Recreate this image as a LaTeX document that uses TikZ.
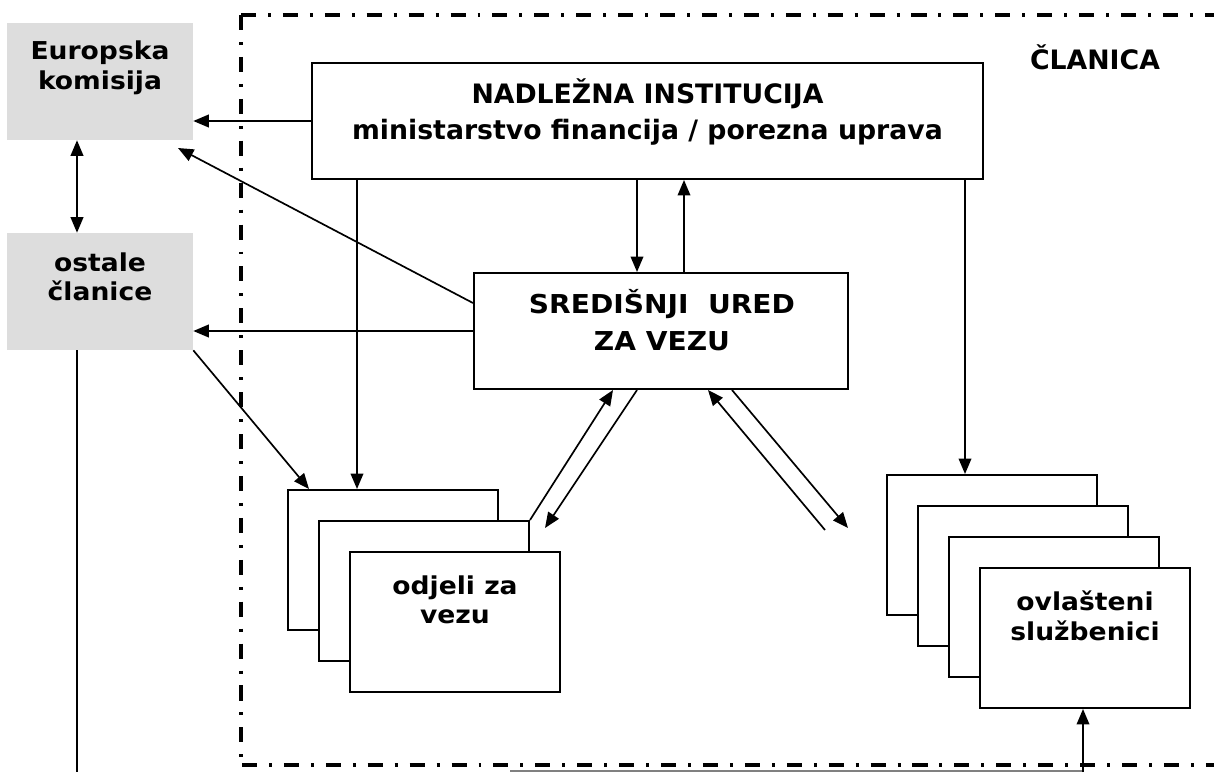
\documentclass[tikz,border=0pt]{standalone}
\usepackage{fontspec}
\setmainfont{DejaVu Sans}
\newfontfamily\widefont[FakeStretch=1.08]{DejaVu Sans}
\usetikzlibrary{arrows.meta}
\definecolor{boxgrey}{HTML}{DDDDDD}

\tikzset{
  greybox/.style={fill=boxgrey, minimum width=4.65cm, minimum height=2.925cm, inner sep=0pt},
  mainbox/.style={draw, line width=1.4pt, fill=white, minimum height=2.9cm, inner sep=0pt},
  stackbox/.style={draw, line width=1.4pt, fill=white, minimum width=5.25cm, minimum height=3.5cm, inner sep=0pt},
  wtext/.style={align=center, inner sep=0pt, font=\widefont\bfseries\fontsize{17.5}{21}\selectfont},
  ttext/.style={align=center, inner sep=0pt, font=\bfseries\fontsize{19}{25}\selectfont},
  arr/.style={line width=1.2pt, -{Triangle[length=11pt,width=9pt]}},
  dblarr/.style={line width=1.2pt, {Triangle[length=11pt,width=9pt]}-{Triangle[length=11pt,width=9pt]}},
  frameline/.style={line width=2.5pt, dash pattern=on 10.7pt off 8.5pt on 2.1pt off 8.5pt}
}

\begin{document}
\begin{tikzpicture}[x=0.025cm, y=0.025cm]
\useasboundingbox (0,0) rectangle (1214,-772);
% outer frame of the member state
\draw[frameline] (241,-15) -- (1214,-15);
\draw[frameline] (241,-15) -- (241,-765);
\draw[frameline] (242,-765) -- (1214,-765);
\node[ttext] (clanica) at (1095,-57) {ČLANICA};

% left side
\node[greybox] (ek) at (100,-81.5) {};
\node[wtext] (ek-txt) at (100,-68) {Europska\\komisija};
\node[greybox] (oc) at (100,-291.5) {};
\node[wtext] (oc-txt) at (100,-277) {ostale\\članice};

% institution and central office
\node[mainbox, minimum width=16.775cm] (ni) at (647.5,-121) {};
\node[ttext] (ni-txt) at (647.5,-112) {NADLEŽNA INSTITUCIJA\\ministarstvo financija / porezna uprava};
\node[mainbox, minimum width=9.35cm] (su) at (661,-331) {};
\node[wtext, font=\widefont\bfseries\fontsize{18.5}{26}\selectfont] (su-txt) at (662,-320) {SREDIŠNJI~~URED\\ZA VEZU};

% liaison departments
\node[stackbox] (odj1) at (393,-560) {};
\node[stackbox] (odj2) at (424,-591) {};
\node[stackbox] (odj3) at (455,-622) {};
\node[wtext] (odj-txt) at (455,-600) {odjeli za\\vezu};

% authorised officers
\node[stackbox] (ovl1) at (992,-545) {};
\node[stackbox] (ovl2) at (1023,-576) {};
\node[stackbox] (ovl3) at (1054,-607) {};
\node[stackbox] (ovl4) at (1085,-638) {};
\node[wtext] (ovl-txt) at (1085,-616) {ovlašteni\\službenici};

% connectors
\draw[arr] (ni.west) -- (ni.west -| ek.east);
\coordinate (ek-tip) at (178,-148);
\draw[arr] ([yshift=0.7cm]su.west) -- (ek-tip);
\draw[arr] (su.west) -- (su.west -| oc.east);
\draw[dblarr] (77,0 |- ek.south) -- (77,0 |- oc.north);
\draw[arr] (637,0 |- ni.south) -- (637,0 |- su.north);
\draw[arr] (684,0 |- su.north) -- (684,0 |- ni.south);
\draw[arr] (357,0 |- ni.south) -- (357,0 |- odj1.north);
\draw[arr] (965,0 |- ni.south) -- (965,0 |- ovl1.north);
\draw[arr] (oc.south east) -- ([xshift=0.55cm]odj1.north west);
\draw[arr] (odj2.north east) -- (613,0 |- su.south);
\coordinate (odj-in) at (545,-528);
\draw[arr] (637,0 |- su.south) -- (odj-in);
\coordinate (ovl-out) at (825,-530);
\draw[arr] (ovl-out) -- (708,0 |- su.south);
\coordinate (ovl-in) at (848,-528);
\draw[arr] (732,0 |- su.south) -- (ovl-in);
\draw[line width=1.2pt] (77,0 |- oc.south) -- (77,-772);
\draw[gray, line width=0.8pt] (510,-771) -- (1083,-771);
\draw[arr] (1083,-772) -- (1083,0 |- ovl4.south);
\end{tikzpicture}
\end{document}
